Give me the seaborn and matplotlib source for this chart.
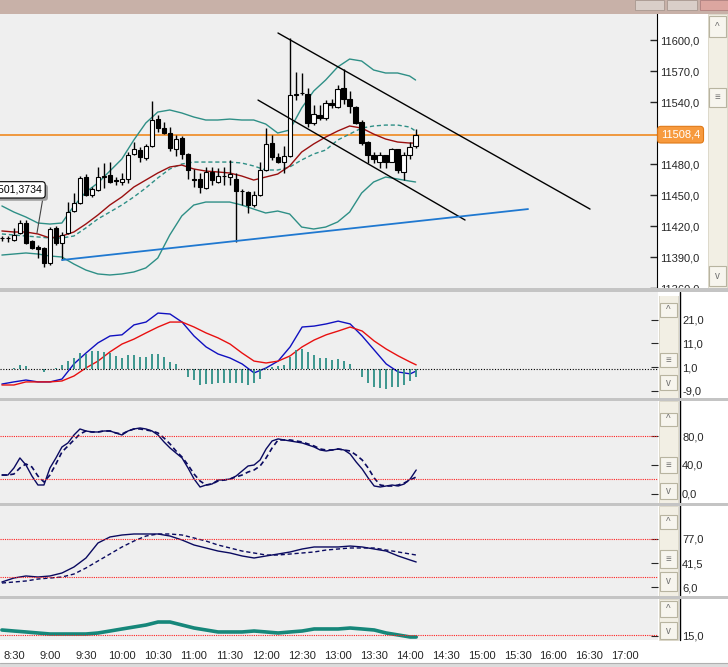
import numpy as np
import pandas as pd
import seaborn as sns
import matplotlib.pyplot as plt
import matplotlib.transforms as mtransforms
import matplotlib.patheffects as pe
from matplotlib.patches import Rectangle
from matplotlib.lines import Line2D

# 5 minute candles, 8:20 .. 14:05
opens = [11408.0, 11408.0, 11406.5, 11413.0, 11423.0, 11405.5, 11399.5, 11398.5, 11384.0, 11418.0,
         11403.5, 11413.0, 11434.5, 11442.5, 11467.5, 11450.0, 11455.0, 11467.5, 11469.5, 11464.5,
         11462.5, 11465.5, 11489.5, 11493.5, 11486.0, 11497.5, 11523.5, 11515.0, 11510.0, 11494.5,
         11505.0, 11489.5, 11465.5, 11465.5, 11457.0, 11472.5, 11462.5, 11468.5, 11467.5, 11465.5,
         11454.0, 11453.0, 11440.5, 11450.0, 11474.0, 11500.5, 11486.5, 11482.0, 11488.0, 11547.0,
         11548.5, 11547.5, 11519.5, 11527.5, 11524.5, 11539.0, 11535.0, 11553.5, 11543.0, 11535.0,
         11520.5, 11501.5, 11488.5, 11482.0, 11488.5, 11482.0, 11494.5, 11472.5, 11488.5, 11497.5]
highs = [11410.5, 11410.5, 11418.0, 11426.0, 11426.0, 11406.5, 11401.5, 11399.5, 11419.0, 11420.0,
         11414.0, 11443.0, 11452.0, 11468.5, 11470.5, 11457.5, 11477.0, 11481.0, 11482.0, 11467.5,
         11471.5, 11491.5, 11501.5, 11496.5, 11499.5, 11541.0, 11527.5, 11520.5, 11516.0, 11508.0,
         11507.0, 11490.5, 11475.0, 11471.5, 11477.0, 11477.0, 11476.0, 11477.0, 11484.0, 11471.5,
         11455.5, 11454.0, 11454.0, 11482.0, 11515.0, 11508.0, 11490.5, 11497.5, 11602.0, 11569.0,
         11568.0, 11553.5, 11537.0, 11537.0, 11542.0, 11543.0, 11556.5, 11572.0, 11550.5, 11536.0,
         11522.5, 11502.5, 11491.5, 11491.5, 11488.5, 11495.5, 11494.5, 11491.5, 11501.5, 11513.5]
lows = [11405.5, 11404.5, 11405.5, 11412.5, 11402.5, 11397.5, 11389.0, 11380.5, 11382.5, 11401.5,
        11387.0, 11412.5, 11433.5, 11441.5, 11449.0, 11448.0, 11454.0, 11457.0, 11461.5, 11459.5,
        11459.5, 11461.5, 11488.5, 11482.0, 11484.0, 11496.5, 11511.0, 11509.0, 11492.5, 11488.0,
        11485.0, 11465.5, 11458.0, 11452.0, 11456.0, 11459.5, 11461.5, 11459.5, 11459.5, 11404.5,
        11440.5, 11432.5, 11438.5, 11449.0, 11473.0, 11484.0, 11481.0, 11471.5, 11486.5, 11542.0,
        11546.5, 11515.5, 11517.5, 11522.5, 11522.5, 11534.0, 11534.0, 11538.0, 11529.5, 11518.5,
        11498.5, 11481.0, 11481.0, 11476.0, 11476.0, 11482.0, 11471.5, 11464.5, 11484.5, 11495.5]
closes = [11408.5, 11408.5, 11411.5, 11423.0, 11403.5, 11398.5, 11397.5, 11384.0, 11417.0, 11403.5,
          11411.5, 11433.5, 11442.5, 11466.5, 11450.0, 11456.0, 11467.5, 11468.5, 11462.5, 11463.5,
          11465.5, 11488.5, 11494.5, 11487.0, 11497.5, 11522.5, 11515.0, 11510.0, 11495.5, 11504.0,
          11489.5, 11474.0, 11465.0, 11457.5, 11472.5, 11464.5, 11468.5, 11468.0, 11470.5, 11454.0,
          11453.5, 11440.5, 11450.0, 11474.0, 11499.5, 11486.5, 11482.0, 11488.0, 11547.0, 11547.5,
          11549.0, 11519.5, 11528.5, 11524.5, 11539.0, 11537.0, 11552.5, 11543.0, 11536.0, 11519.5,
          11500.5, 11488.5, 11484.5, 11488.5, 11482.0, 11494.5, 11474.0, 11488.5, 11496.5, 11508.4]
last_price = 11508.4

# indicator lines read every second candle (plus the last one)
line_idx = list(range(0, 70, 2)) + [69]
bb_upper = [11439.4, 11433.5, 11428.7, 11422.9, 11421.9, 11422.9, 11439.4, 11452.9, 11461.6, 11473.2,
            11484.8, 11503.2, 11519.7, 11530.3, 11532.3, 11529.4, 11525.5, 11522.6, 11522.6, 11523.5,
            11522.6, 11522.6, 11518.7, 11510.0, 11512.9, 11534.2, 11550.6, 11561.3, 11573.9, 11581.6,
            11579.7, 11571.0, 11568.1, 11568.1, 11565.2, 11561.3]
bb_middle = [11412.3, 11411.3, 11410.3, 11409.4, 11408.4, 11408.4, 11410.3, 11418.1, 11426.8, 11433.5,
             11440.3, 11448.1, 11456.8, 11466.5, 11475.2, 11480.0, 11481.9, 11481.9, 11481.9, 11481.9,
             11481.0, 11478.1, 11474.2, 11474.2, 11477.1, 11483.9, 11489.7, 11493.5, 11503.2, 11509.0,
             11514.8, 11516.8, 11517.7, 11517.7, 11515.8, 11511.9]
bb_lower = [11391.9, 11392.9, 11393.9, 11392.9, 11391.0, 11390.0, 11383.2, 11377.4, 11373.6, 11372.6,
            11373.6, 11375.5, 11379.4, 11389.0, 11411.3, 11429.7, 11440.3, 11443.2, 11443.2, 11443.2,
            11440.3, 11436.4, 11432.6, 11434.5, 11431.6, 11419.0, 11417.1, 11419.0, 11423.9, 11433.5,
            11451.9, 11462.6, 11467.4, 11465.5, 11463.5, 11462.6]
ma_red = [11415.2, 11414.2, 11414.2, 11412.3, 11408.4, 11410.3, 11414.2, 11421.9, 11430.6, 11440.3,
          11448.1, 11457.7, 11464.5, 11471.3, 11477.1, 11479.0, 11475.2, 11473.2, 11472.3, 11471.3,
          11468.4, 11464.5, 11467.4, 11470.3, 11478.1, 11491.6, 11499.4, 11506.1, 11511.9, 11516.8,
          11514.8, 11509.0, 11504.2, 11501.3, 11500.3, 11500.3]

macd_line = [-6.2, -5.3, -4.5, -5.3, -5.3, -4.1, 2.3, 6.9, 11.2, 14.1, 14.6, 18.8, 20.0, 23.8, 23.4, 20.0,
             14.1, 9.5, 6.5, 4.8, 2.3, -1.5, 0.6, 3.5, 9.5, 17.9, 18.3, 19.2, 20.4, 19.2, 14.1, 8.2,
             2.3, -1.1, -1.9, -0.7]
macd_signal = [-6.6, -6.6, -5.3, -5.3, -5.3, -4.9, -2.8, 0.6, 3.5, 7.4, 10.7, 12.8, 15.4, 17.9, 20.0, 20.0,
               17.9, 15.4, 13.3, 10.7, 6.9, 3.5, 2.7, 3.5, 5.7, 9.5, 12.4, 14.6, 16.2, 17.9, 16.2, 12.0,
               8.6, 5.7, 3.1, 1.9]
macd_hist = [0.2, 0.3, 0.6, 2.0, 1.4, 0.1, 0.0, -1.0, 0.2, 0.5, 1.7, 3.4, 4.8, 6.9, 6.6, 7.6, 7.6, 7.3,
             7.0, 5.6, 4.8, 5.9, 6.2, 5.2, 5.2, 6.5, 6.5, 5.2, 3.1, 2.4, 0.0, -3.2, -4.6, -6.5, -6.1,
             -6.0, -5.6, -5.6, -5.6, -5.6, -5.6, -6.5, -5.6, -3.9, 0.4, 1.0, 1.4, 2.0, 5.2, 8.1, 8.5,
             7.3, 6.2, 4.8, 4.8, 4.1, 4.5, 3.5, 2.4, 0.2, -3.2, -5.6, -7.4, -7.9, -8.1, -7.4, -7.4,
             -6.7, -5.0, -3.2]

stoch_k = [25.9, 25.9, 35.7, 49.7, 39.9, 24.5, 12.0, 12.0, 35.7, 49.7, 65.0, 70.6, 81.7, 90.1, 87.3,
           85.9, 85.9, 87.3, 87.3, 84.5, 81.7, 87.3, 90.1, 91.5, 90.1, 87.3, 81.7, 72.0, 63.6, 56.6,
           49.7, 35.7, 20.4, 9.2, 12.0, 13.4, 19.0, 19.0, 20.4, 24.5, 31.5, 38.5, 39.9, 46.9, 62.2,
           73.4, 76.2, 74.8, 73.4, 72.0, 70.6, 67.8, 65.0, 60.8, 59.4, 60.8, 62.2, 60.8, 55.2, 44.1,
           34.3, 21.8, 10.6, 9.2, 10.6, 12.0, 10.6, 13.4, 20.4, 32.9]
stoch_d = [25.9, 25.9, 27.3, 35.7, 41.3, 37.1, 24.5, 16.2, 25.9, 41.3, 58.0, 66.4, 74.8, 83.1, 87.3,
           85.9, 85.9, 87.3, 87.3, 84.5, 83.1, 87.3, 90.1, 90.1, 88.7, 87.3, 84.5, 77.5, 69.2, 59.4,
           51.0, 39.9, 27.3, 17.6, 12.0, 13.4, 17.6, 19.0, 20.4, 23.2, 25.9, 30.1, 32.9, 38.5, 49.7,
           63.6, 74.8, 74.8, 74.8, 73.4, 72.0, 69.2, 66.4, 62.2, 60.8, 60.8, 62.2, 60.8, 59.4, 53.8,
           46.9, 35.7, 21.8, 12.0, 10.6, 10.6, 12.0, 14.8, 19.0, 23.2]

osc_fast = [13.4, 19.3, 22.3, 20.8, 22.3, 26.7, 35.6, 48.9, 71.1, 80.0, 82.9, 84.4, 84.4, 84.4, 81.4,
            75.5, 68.1, 63.7, 59.2, 56.3, 51.9, 48.9, 51.9, 54.8, 57.8, 62.2, 65.2, 65.2, 65.2, 66.6,
            65.2, 62.2, 59.2, 51.9, 45.9, 43.0]
osc_slow = [11.9, 13.4, 14.9, 17.8, 19.3, 20.8, 25.2, 34.1, 44.5, 54.8, 65.2, 74.0, 81.4, 84.4, 84.4,
            82.9, 78.5, 74.0, 68.1, 63.7, 59.2, 56.3, 53.3, 53.3, 54.8, 56.3, 57.8, 60.7, 62.2, 63.7,
            63.7, 63.7, 60.7, 57.8, 54.8, 53.3]
adx = [25.0, 23.3, 21.7, 20.0, 18.3, 18.3, 18.3, 18.3, 20.0, 23.3, 26.7, 30.0, 33.3, 38.3, 38.3, 33.3,
       28.3, 25.0, 21.7, 21.7, 21.7, 23.3, 21.7, 20.0, 21.7, 23.3, 26.7, 26.7, 26.7, 28.3, 26.7, 25.0,
       20.0, 16.7, 13.3, 13.3]

# drawn trend lines: (candle index, price) end points
channel_top = ([46.05, 98.1], [11606.8, 11436.4])
channel_bottom = ([42.72, 77.25], [11541.9, 11425.8])
support_line = ([10.02, 87.76], [11387.1, 11436.4])
tag_text = '11501,3734'

time_labels = ['8:30', '9:00', '9:30', '10:00', '10:30', '11:00', '11:30', '12:00', '12:30',
               '13:00', '13:30', '14:00', '14:30', '15:00', '15:30', '16:00', '16:30', '17:00']

price_ticks = [11360, 11390, 11420, 11450, 11480, 11540, 11570, 11600]
macd_ticks = [-9, 1, 11, 21]
stoch_ticks = [0, 40, 80]
osc_ticks = [6, 41.5, 77]
adx_ticks = [15]

sns.set_style('white')
plt.rcParams['font.family'] = ['Liberation Sans', 'DejaVu Sans']

W, H = 728, 667
fig = plt.figure(figsize=(W / 100, H / 100), dpi=100, facecolor='white')


def box(x0, y0, x1, y1):
    return [x0 / W, 1 - y1 / H, (x1 - x0) / W, (y1 - y0) / H]


def rect(x0, y0, x1, y1, **kw):
    fig.add_artist(Rectangle((x0 / W, 1 - y1 / H), (x1 - x0) / W, (y1 - y0) / H,
                             transform=fig.transFigure, **kw))


def fmt(v):
    return f'{v:.1f}'.replace('.', ',')


bg = '#efefef'
teal = '#2e8f86'
XLIM = (-0.317, 109.27)

ax = fig.add_axes(box(0, 14, 657, 288), facecolor=bg)
ax_macd = fig.add_axes(box(0, 292, 658, 398), facecolor=bg)
ax_sto = fig.add_axes(box(0, 401, 658, 503), facecolor=bg)
ax_osc = fig.add_axes(box(0, 506, 658, 596), facecolor=bg)
ax_adx = fig.add_axes(box(0, 599, 658, 640), facecolor=bg)
ax_t = fig.add_axes(box(0, 640, 657, 643), facecolor='white')

# ---- price panel
idx = np.arange(len(closes))
o = np.array(opens)
c = np.array(closes)
ax.vlines(idx, lows, highs, color='black', lw=1, zorder=3)
ax.bar(idx, np.abs(c - o), bottom=np.minimum(o, c), width=0.72,
       color=np.where(c >= o, 'white', 'black'), edgecolor='black', lw=0.8, zorder=4)

lines = pd.DataFrame({'i': line_idx, 'up': bb_upper, 'mid': bb_middle, 'low': bb_lower, 'ma': ma_red})
sns.lineplot(data=lines, x='i', y='up', ax=ax, color=teal, lw=1, estimator=None, zorder=2)
sns.lineplot(data=lines, x='i', y='low', ax=ax, color=teal, lw=1, estimator=None, zorder=2)
sns.lineplot(data=lines, x='i', y='mid', ax=ax, color=teal, lw=1, estimator=None,
             linestyle=(0, (3, 2)), zorder=2)
sns.lineplot(data=lines, x='i', y='ma', ax=ax, color='#9a1010', lw=1, estimator=None, zorder=2)

ax.axhline(last_price, color='#f08a20', lw=1.2, zorder=1)
ax.plot(*channel_top, color='black', lw=1, zorder=5)
ax.plot(*channel_bottom, color='black', lw=1, zorder=5)
ax.plot(*support_line, color='#1f78d0', lw=1.3, zorder=5)

# price tag of the drawn line, cut by the left edge as on screen
ax.plot([7.0, 5.85], [11452.5, 11413.2], color='#444444', lw=0.8, zorder=5)
tag = ax.text(6.69, 11455.0, tag_text, ha='right', va='center', fontsize=7.6, color='black',
              bbox=dict(boxstyle='round,pad=0.3', fc='white', ec='black', lw=0.8), clip_on=True, zorder=7)
tag.get_bbox_patch().set_path_effects([
    pe.SimplePatchShadow(offset=(2, -2), shadow_rgbFace='#a0a0a0', alpha=1), pe.Normal()])

ax.set_xlim(XLIM)
ax.set_ylim(11360, 11625.2)
ax.yaxis.tick_right()
ax.set_yticks(price_ticks)
ax.set_yticklabels([fmt(v) for v in price_ticks])
ax.set_xticks([])
ax.tick_params(axis='y', direction='in', length=5, pad=2.2, labelsize=8, width=1)
for s in ['top', 'left', 'bottom']:
    ax.spines[s].set_visible(False)
ax.spines['right'].set_color('black')
ax.set_xlabel('')
ax.set_ylabel('')
blend = mtransforms.blended_transform_factory(ax.transAxes, ax.transData)
ax.text(1.006, last_price, fmt(last_price), transform=blend, ha='left', va='center',
        color='white', fontsize=8, zorder=8,
        bbox=dict(boxstyle='round,pad=0.3', fc='#f79a3e', ec='#e07a18', lw=0.8))

# ---- MACD
sns.lineplot(x=line_idx, y=macd_line, ax=ax_macd, color='#1010c0', lw=1, estimator=None)
sns.lineplot(x=line_idx, y=macd_signal, ax=ax_macd, color='#e81010', lw=1, estimator=None)
ax_macd.vlines(idx, 0, macd_hist, color=teal, lw=1.3)
ax_macd.axhline(0, color='black', lw=0.8, ls=(0, (1, 1.5)))
ax_macd.set_ylim(-12.1, 32.7)
ax_macd.set_yticks(macd_ticks)
ax_macd.set_yticklabels([fmt(v) for v in macd_ticks])

# ---- stochastic
sns.lineplot(x=idx, y=stoch_k, ax=ax_sto, color='#0a0a60', lw=1, estimator=None)
sns.lineplot(x=idx, y=stoch_d, ax=ax_sto, color='#0a0a60', lw=1.2, estimator=None, linestyle=(0, (3, 2)))
for lv in [80, 20]:
    ax_sto.axhline(lv, color='#ff2020', lw=0.8, ls=(0, (1, 1)))
ax_sto.set_ylim(-13.1, 129.1)
ax_sto.set_yticks(stoch_ticks)
ax_sto.set_yticklabels([fmt(v) for v in stoch_ticks])

# ---- oscillator
sns.lineplot(x=line_idx, y=osc_fast, ax=ax_osc, color='#0a0a60', lw=1, estimator=None)
sns.lineplot(x=line_idx, y=osc_slow, ax=ax_osc, color='#0a0a60', lw=1, estimator=None, linestyle=(0, (3, 2)))
for lv in [77, 21]:
    ax_osc.axhline(lv, color='#ff2020', lw=0.8, ls=(0, (1, 1)))
ax_osc.set_ylim(-7.3, 125.8)
ax_osc.set_yticks(osc_ticks)
ax_osc.set_yticklabels([fmt(v) for v in osc_ticks])

# ---- adx
sns.lineplot(x=line_idx, y=adx, ax=ax_adx, color='#16877a', lw=2.6, estimator=None)
ax_adx.axhline(16.5, color='#ff2020', lw=0.8, ls=(0, (1, 1)))
ax_adx.set_ylim(8.3, 76.7)
ax_adx.set_yticks(adx_ticks)
ax_adx.set_yticklabels([fmt(v) for v in adx_ticks])

for a in [ax_macd, ax_sto, ax_osc, ax_adx]:
    a.set_xlim(XLIM)
    a.set_xticks([])
    a.yaxis.tick_right()
    a.tick_params(axis='y', direction='in', length=5, pad=17.3, labelsize=8)
    for s in a.spines.values():
        s.set_visible(False)
    a.set_xlabel('')
    a.set_ylabel('')

# ---- time axis
ax_t.set_xlim(XLIM)
ax_t.set_ylim(0, 1)
ax_t.set_xticks([2 + 6 * k for k in range(len(time_labels))])
ax_t.set_xticklabels(time_labels)
ax_t.set_yticks([])
ax_t.tick_params(axis='x', direction='out', length=3, pad=3, labelsize=8, color='#333333')
for s in ax_t.spines.values():
    s.set_visible(False)

# ---- window furniture
rect(0, 0, 728, 14, fc='#c8b1a8', ec='none')
rect(635, 0, 664, 10, fc='#d9cec8', ec='#a89890', lw=0.6)
rect(667, 0, 697, 10, fc='#d9cec8', ec='#a89890', lw=0.6)
rect(700, 0, 728, 10, fc='#dca6a0', ec='#b08080', lw=0.6)

for y0, y1 in [(288, 292), (398, 401), (503, 506), (596, 599)]:
    rect(0, y0, 728, y1, fc='#c4c4c4', ec='none', zorder=5)
rect(658, 292, 708, 296, fc='white', ec='none', zorder=4)
rect(0, 663, 728, 667, fc='#dcdcdc', ec='none')
fig.add_artist(Line2D([0, 1], [1 - 663 / H] * 2, color='#b0b0b0', lw=0.8, transform=fig.transFigure))
fig.add_artist(Line2D([679.5 / W] * 2, [1 - 292 / H, 1 - 640 / H], color='black', lw=1,
                      transform=fig.transFigure, zorder=4))


def scrollbar(x0, x1, y0, y1, buttons):
    rect(x0, y0, x1, y1, fc='#f2efe4', ec='#d8d4c4', lw=0.6)
    for b0, b1, g in buttons:
        rect(x0 + 1, b0, x1 - 1, b1, fc='#f7f5ee', ec='#b8b4a0', lw=0.8)
        fig.text((x0 + x1) / 2 / W, 1 - (b0 + b1) / 2 / H, g, ha='center', va='center',
                 fontsize=7, color='#707070')


scrollbar(708, 727, 14, 288, [(16, 37, '^'), (88, 107, '≡'), (266, 286, 'v')])
scrollbar(659, 678, 292, 398, [(303, 317, '^'), (353, 367, '≡'), (375, 390, 'v')])
scrollbar(659, 678, 401, 503, [(413, 426, '^'), (457, 473, '≡'), (483, 499, 'v')])
scrollbar(659, 678, 506, 596, [(515, 529, '^'), (550, 568, '≡'), (572, 591, 'v')])
scrollbar(659, 678, 599, 640, [(601, 617, '^'), (622, 639, 'v')])

plt.savefig('out.png', dpi=100)
